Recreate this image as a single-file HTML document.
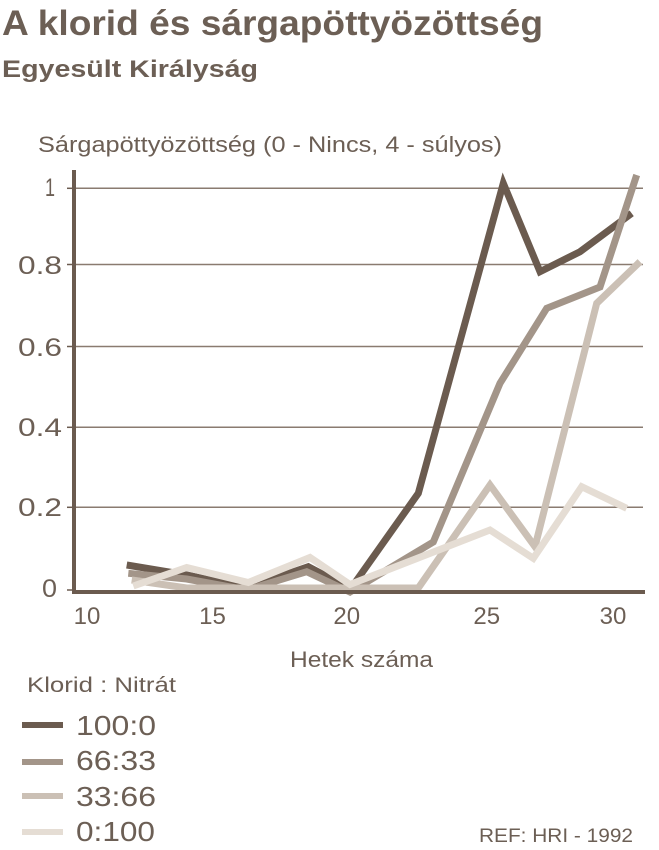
<!DOCTYPE html>
<html>
<head>
<meta charset="utf-8">
<style>
  html, body { margin: 0; padding: 0; background: #ffffff; }
  svg { display: block; }
  text { font-family: "Liberation Sans", "DejaVu Sans", sans-serif; fill: #6c5f55; }
</style>
</head>
<body>
<svg width="659" height="850" viewBox="0 0 659 850" xmlns="http://www.w3.org/2000/svg">
  <rect x="0" y="0" width="659" height="850" fill="#ffffff"/>

  <!-- Titles -->
  <text x="2" y="35" font-size="35" font-weight="bold" textLength="541" lengthAdjust="spacingAndGlyphs">A klorid és sárgapöttyözöttség</text>
  <text x="2" y="77" font-size="24" font-weight="bold" textLength="256" lengthAdjust="spacingAndGlyphs">Egyesült Királyság</text>

  <!-- Y axis title -->
  <text x="38" y="152" font-size="22" textLength="464" lengthAdjust="spacingAndGlyphs">Sárgapöttyözöttség (0 - Nincs, 4 - súlyos)</text>

  <!-- Gridlines -->
  <g stroke="#8a7b70" stroke-width="1.5">
    <line x1="76" y1="188.3" x2="643" y2="188.3"/>
    <line x1="76" y1="264.5" x2="643" y2="264.5"/>
    <line x1="76" y1="346.5" x2="643" y2="346.5"/>
    <line x1="76" y1="427.3" x2="643" y2="427.3"/>
    <line x1="76" y1="507.3" x2="643" y2="507.3"/>
  </g>
  <!-- ticks -->
  <g stroke="#6b5b4f" stroke-width="1.5">
    <line x1="67" y1="188.3" x2="73" y2="188.3"/>
    <line x1="67" y1="264.5" x2="73" y2="264.5"/>
    <line x1="67" y1="346.5" x2="73" y2="346.5"/>
    <line x1="67" y1="427.3" x2="73" y2="427.3"/>
    <line x1="67" y1="507.3" x2="73" y2="507.3"/>
    <line x1="67" y1="590" x2="73" y2="590"/>
  </g>

  <!-- Y tick labels -->
  <g font-size="25">
    <text x="45" y="196" textLength="10" lengthAdjust="spacingAndGlyphs">1</text>
    <text x="18" y="274" textLength="44" lengthAdjust="spacingAndGlyphs">0.8</text>
    <text x="18" y="356" textLength="44" lengthAdjust="spacingAndGlyphs">0.6</text>
    <text x="18" y="436" textLength="44" lengthAdjust="spacingAndGlyphs">0.4</text>
    <text x="18" y="516" textLength="44" lengthAdjust="spacingAndGlyphs">0.2</text>
    <text x="42" y="597" textLength="15" lengthAdjust="spacingAndGlyphs">0</text>
  </g>

  <!-- Series -->
  <g fill="none" stroke-width="7" stroke-linecap="butt" stroke-linejoin="miter" stroke-miterlimit="4">
    <polyline stroke="#6b5b4f" points="126.7,565 186.7,575 246.7,588 308.3,566.7 350.5,589 418.3,493.3 503.3,183.3 540,271.7 580,251.7 631.7,213.3"/>
    <polyline stroke="#a39589" points="128.3,573.3 186.7,579 246.7,590 306.7,571.7 350,592 433.3,542 500,383.3 546.7,308.3 600,287 636.7,175"/>
    <polyline stroke="#cbc0b5" points="131.7,580 186.7,588 418.3,588 490,485 535,546.7 596.7,303.3 640,261.7"/>
    <polyline stroke="#e5ddd4" points="133.3,586 186.7,567.5 248.3,582.5 310,557.5 350,584.5 490,530 533.3,558.3 581.7,486.7 626.7,508.3"/>
  </g>

  <!-- Axes -->
  <rect x="72" y="170" width="4" height="424" fill="#6b5b4f"/>
  <rect x="72" y="590" width="573" height="4" fill="#6b5b4f"/>

  <!-- X tick labels -->
  <g font-size="24" text-anchor="middle">
    <text x="87" y="624">10</text>
    <text x="212.5" y="624">15</text>
    <text x="346.7" y="624">20</text>
    <text x="486.7" y="624">25</text>
    <text x="613" y="624">30</text>
  </g>

  <!-- X axis title -->
  <text x="290" y="667" font-size="22" textLength="143" lengthAdjust="spacingAndGlyphs">Hetek száma</text>

  <!-- Legend -->
  <text x="27" y="692" font-size="21" textLength="149" lengthAdjust="spacingAndGlyphs">Klorid : Nitrát</text>
  <rect x="22" y="722" width="41" height="6" fill="#6b5b4f"/>
  <rect x="22" y="759" width="41" height="6" fill="#a39589"/>
  <rect x="22" y="793" width="41" height="6" fill="#cbc0b5"/>
  <rect x="22" y="829" width="41" height="6" fill="#e5ddd4"/>
  <g font-size="28">
    <text x="76" y="735" textLength="80" lengthAdjust="spacingAndGlyphs">100:0</text>
    <text x="76" y="770" textLength="80" lengthAdjust="spacingAndGlyphs">66:33</text>
    <text x="76" y="806" textLength="80" lengthAdjust="spacingAndGlyphs">33:66</text>
    <text x="76" y="841" textLength="79" lengthAdjust="spacingAndGlyphs">0:100</text>
  </g>

  <!-- Reference -->
  <text x="479" y="842" font-size="19" textLength="154" lengthAdjust="spacingAndGlyphs">REF: HRI - 1992</text>
</svg>
</body>
</html>
